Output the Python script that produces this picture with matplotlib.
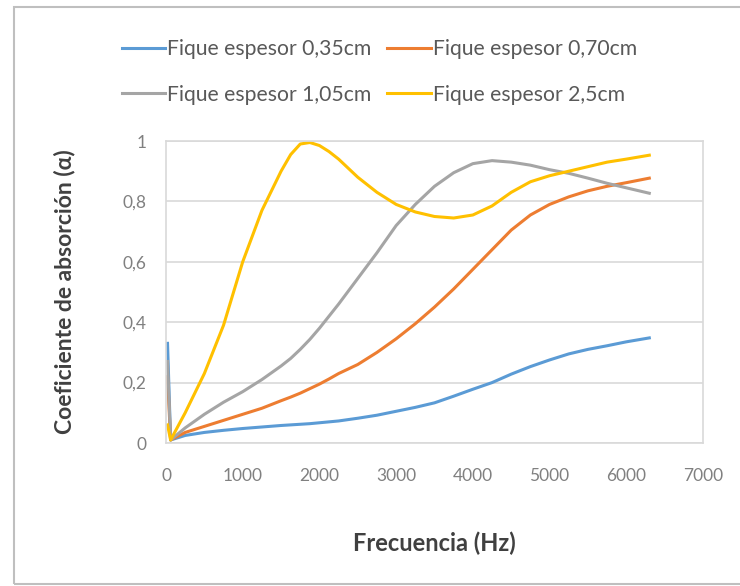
import matplotlib
matplotlib.use("Agg")
import matplotlib.pyplot as plt
from matplotlib.patches import Rectangle
from matplotlib.ticker import FuncFormatter

plt.rcParams['font.family'] = ['Lato', 'DejaVu Sans']

# values
freq = [20, 60, 250, 500, 750, 1000, 1250, 1500, 1625, 1750, 1875, 2000, 2125,
        2250, 2500, 2750, 3000, 3250, 3500, 3750, 4000, 4250, 4500, 4750, 5000,
        5250, 5500, 5750, 6000, 6300]
e035 = [0.33, 0.01, 0.025, 0.035, 0.042, 0.048, 0.053, 0.058, 0.060, 0.062, 0.064,
        0.067, 0.070, 0.073, 0.082, 0.092, 0.105, 0.118, 0.133, 0.155, 0.178, 0.2,
        0.228, 0.253, 0.275, 0.295, 0.31, 0.322, 0.335, 0.348]
e070 = [0.22, 0.01, 0.035, 0.055, 0.075, 0.095, 0.115, 0.14, 0.152, 0.165, 0.18,
        0.195, 0.212, 0.23, 0.26, 0.3, 0.345, 0.395, 0.45, 0.51, 0.575, 0.64,
        0.705, 0.755, 0.79, 0.815, 0.835, 0.85, 0.862, 0.877]
e105 = [0.27, 0.01, 0.05, 0.095, 0.135, 0.17, 0.21, 0.255, 0.28, 0.31, 0.343,
        0.38, 0.42, 0.46, 0.545, 0.63, 0.72, 0.79, 0.85, 0.895, 0.925, 0.935,
        0.93, 0.92, 0.905, 0.893, 0.877, 0.86, 0.845, 0.827]
e250 = [0.06, 0.01, 0.10, 0.23, 0.39, 0.60, 0.77, 0.90, 0.955, 0.99, 0.995,
        0.985, 0.965, 0.94, 0.88, 0.83, 0.79, 0.765, 0.75, 0.745, 0.755, 0.785,
        0.83, 0.865, 0.885, 0.90, 0.915, 0.93, 0.94, 0.953]

labels = ['Fique espesor 0,35cm', 'Fique espesor 0,70cm',
          'Fique espesor 1,05cm', 'Fique espesor 2,5cm']
colors = ['#5B9BD5', '#ED7D31', '#A5A5A5', '#FFC000']
series = [e035, e070, e105, e250]

fig = plt.figure(figsize=(7.4, 5.86), dpi=100)
ax = fig.add_axes([166/740, 1-443/586, (703-166)/740, (443-141)/586])

lines = []
for vals, lab, col in zip(series, labels, colors):
    ln, = ax.plot(freq, vals, color=col, lw=2.2, label=lab, solid_joinstyle='round')
    lines.append(ln)

ax.set_xlim(0, 7000)
ax.set_ylim(0, 1)
ax.set_xticks(range(0, 7001, 1000))
ax.set_yticks([0, 0.2, 0.4, 0.6, 0.8, 1.0])
ax.yaxis.set_major_formatter(FuncFormatter(lambda v, p: ('%g' % round(v, 1)).replace('.', ',')))
ax.tick_params(length=0, labelsize=12.5, labelcolor='#808080')
ax.tick_params(axis='x', pad=18)
ax.tick_params(axis='y', pad=14)
ax.grid(axis='y', color='#D9D9D9', lw=1.2)
for s in ax.spines.values():
    s.set_color('#D9D9D9')
    s.set_linewidth(1.2)

fig.text(434/740, 1-543/586, 'Frecuencia (Hz)', ha='center', va='center',
         fontsize=17, fontweight='bold', color='#404040')
fig.text(65/740, 1-292/586, 'Coeficiente de absorción (α)', ha='center', va='center',
         rotation=90, fontsize=16.5, fontweight='bold', color='#404040')

order = [0, 2, 1, 3]
fig.legend([lines[i] for i in order], [labels[i] for i in order], ncol=2,
           loc='upper left', bbox_to_anchor=(103/740, 1-20/586), frameon=False,
           fontsize=15.2, labelcolor='#595959', handlelength=2.05, handletextpad=0.1,
           columnspacing=0.75, labelspacing=1.22)

fig.add_artist(Rectangle((14/740, 2/586), 1.0, 1-9/586, transform=fig.transFigure,
                         fill=False, edgecolor='#BFBFBF', lw=1.5))

fig.savefig('out.png', dpi=100)
